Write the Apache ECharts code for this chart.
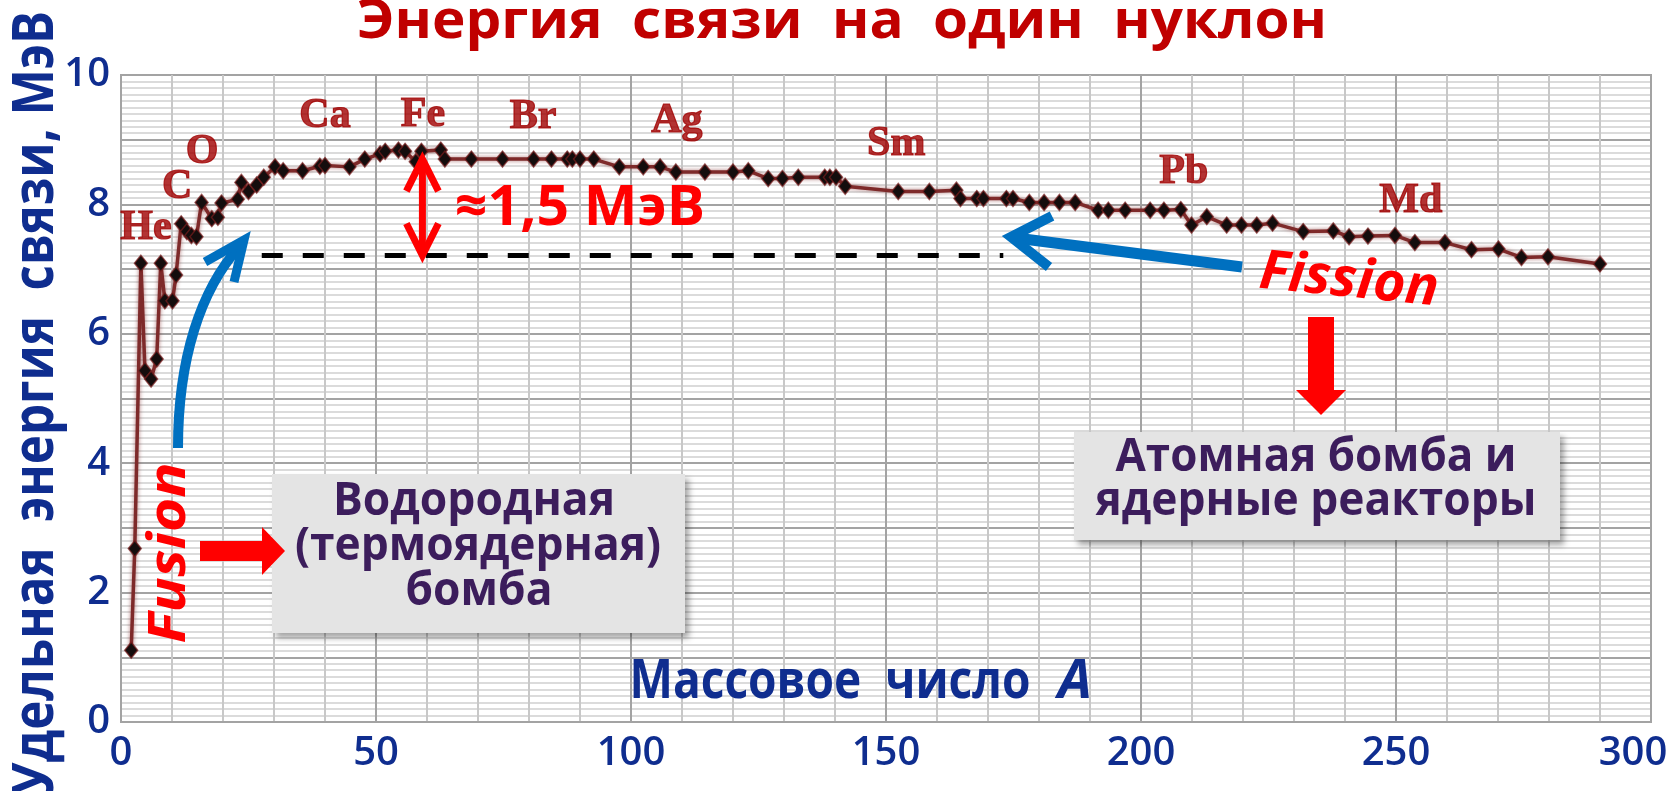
<!DOCTYPE html>
<html>
<head>
<meta charset="utf-8">
<script src="https://cdn.jsdelivr.net/npm/echarts@6/dist/echarts.min.js"></script>
<style>
  html, body { margin: 0; padding: 0; background: #fff; }
  #main { width: 1675px; height: 791px; }
</style>
</head>
<body>
<div id="main"></div>
<script>
// массовое число A
const massNumber = [2, 2.7, 3.9, 4.7, 5.9, 7.0, 7.8, 8.6, 10.1, 10.8,
  11.8, 12.9, 13.8, 14.8, 15.8, 17.8, 19.0, 19.7, 22.9, 23.6,
  25.0, 26.6, 28.0, 30.2, 31.8, 35.6, 39.0, 40.0, 44.8, 47.8,
  50.8, 51.8, 54.4, 55.7, 57.8, 58.9, 62.7, 63.5, 68.7, 74.8,
  80.9, 84.4, 87.5, 88.5, 90.0, 92.7, 97.7, 102.4, 105.7, 108.8,
  114.5, 120.0, 123.0, 126.9, 129.7, 132.8, 138.0, 139.0, 140.2, 142.0,
  152.4, 158.5, 163.8, 164.6, 167.8, 169.1, 173.6, 174.9, 178.1, 181.0,
  184.0, 187.1, 191.6, 193.6, 196.9, 201.8, 204.5, 207.8, 209.9, 212.9,
  216.8, 219.7, 222.7, 225.8, 231.8, 237.7, 240.8, 244.5, 249.8, 253.7,
  259.6, 264.8, 270.1, 274.6, 279.8, 290.0]

// удельная энергия связи, МэВ
const bindingEnergy = [1.11, 2.68, 7.09, 5.43, 5.30, 5.61, 7.09, 6.51, 6.51, 6.91,
  7.70, 7.58, 7.52, 7.50, 8.03, 7.78, 7.80, 8.02, 8.08, 8.34,
  8.20, 8.30, 8.42, 8.58, 8.52, 8.52, 8.59, 8.60, 8.58, 8.70,
  8.78, 8.82, 8.84, 8.82, 8.66, 8.82, 8.84, 8.70, 8.70, 8.70,
  8.70, 8.70, 8.70, 8.70, 8.70, 8.70, 8.58, 8.58, 8.58, 8.50,
  8.50, 8.50, 8.52, 8.40, 8.40, 8.42, 8.42, 8.42, 8.42, 8.28,
  8.20, 8.20, 8.22, 8.09, 8.09, 8.09, 8.09, 8.09, 8.03, 8.03,
  8.03, 8.03, 7.91, 7.91, 7.91, 7.91, 7.91, 7.92, 7.68, 7.81,
  7.68, 7.68, 7.68, 7.71, 7.58, 7.59, 7.50, 7.51, 7.52, 7.41,
  7.41, 7.30, 7.31, 7.18, 7.19, 7.08]

// подписи элементов (где стоят над кривой)
const elementNames = ['He', 'C', 'O', 'Ca', 'Fe', 'Br', 'Ag', 'Sm', 'Pb', 'Md']
const elementA = [4.9, 11.0, 15.9, 40.0, 59.2, 80.8, 109.0, 152.0, 208.4, 252.9]
const elementE = [7.64, 8.27, 8.81, 9.37, 9.38, 9.35, 9.29, 8.93, 8.50, 8.05]

const xTickLabels = [0, 50, 100, 150, 200, 250, 300]
const yTickLabels = [0, 2, 4, 6, 8, 10]

// пунктир и стрелка ≈1,5 МэВ
const gapLevel = 7.21
const gapFrom = 27.6
const gapTo = 173
const gapArrowA = 59.1
const gapArrowTop = 8.70

const navy = '#0f2d8f'
const chart = echarts.init(document.getElementById('main'))

const option = {
  animation: false,
  textStyle: { fontFamily: 'Open Sans' },
  grid: { left: 121, right: 24, top: 75, bottom: 69, show: true, borderColor: '#a3a3a3', borderWidth: 2 },
  xAxis: {
    type: 'value', min: 0, max: 300, interval: 10,
    axisLine: { show: true, lineStyle: { color: '#a3a3a3', width: 2 } },
    axisTick: { show: false },
    axisLabel: {
      margin: 12, fontSize: 40, fontWeight: 600, color: navy,
      formatter: v => xTickLabels.includes(v) ? (v === 300 ? '{last|300}' : String(v)) : '',
      rich: { last: { fontSize: 40, fontWeight: 600, color: navy, padding: [0, 36, 0, 0] } }
    },
    splitLine: { show: true, lineStyle: { color: ['#a3a3a3', '#c8c8c8', '#c8c8c8', '#c8c8c8', '#c8c8c8'], width: 2 } }
  },
  yAxis: {
    type: 'value', min: 0, max: 10, interval: 1,
    axisLine: { show: true, lineStyle: { color: '#a3a3a3', width: 2 } },
    axisTick: { show: false },
    axisLabel: { margin: 11, fontSize: 40, fontWeight: 600, color: navy, formatter: v => yTickLabels.includes(v) ? String(v) : '' },
    splitLine: { show: true, lineStyle: { color: '#a3a3a3', width: 2 } },
    minorTick: { show: false, splitNumber: 10 },
    minorSplitLine: { show: true, lineStyle: { color: '#cfcfcf', width: 1.5 } }
  },
  series: [
    {
      type: 'line',
      silent: true,
      data: massNumber.map((a, i) => [a, bindingEnergy[i]]),
      symbol: 'diamond',
      symbolSize: [13, 16],
      showAllSymbol: true,
      itemStyle: { color: '#140d0d', borderColor: 'rgba(120,30,30,0.7)', borderWidth: 1.5 },
      lineStyle: { color: '#7e2a2a', width: 3.5, shadowColor: 'rgba(120,30,30,0.6)', shadowBlur: 4 },
      markLine: {
        silent: true,
        symbol: ['none', 'none'],
        label: { show: false },
        lineStyle: { color: '#000', width: 5, type: [21, 20] },
        data: [[{ coord: [gapFrom, gapLevel] }, { coord: [gapTo, gapLevel] }]]
      }
    },
    {
      type: 'scatter',
      silent: true,
      symbol: 'circle',
      symbolSize: 1,
      itemStyle: { color: 'rgba(0,0,0,0)' },
      data: elementNames.map((n, i) => ({ name: n, value: [elementA[i], elementE[i]] })),
      label: {
        show: true, position: 'inside', formatter: '{b}',
        fontFamily: 'Liberation Serif', fontWeight: 'bold', fontSize: 42, color: '#a00000',
        textBorderColor: '#a00000', textBorderWidth: 1.2
      },
      z: 5
    }
  ]
}
chart.setOption(option)

// текст, подогнанный по ширине (как растянутый текст в исходной картинке)
const ctx = document.createElement('canvas').getContext('2d')
function fitText (text, cx, cy, width, capH, color, opts = {}) {
  const family = opts.family || 'Open Sans'
  const size = capH / (opts.capRatio || 0.714)
  const font = `${opts.style || 'normal'} ${opts.weight || 'bold'} ${size.toFixed(1)}px "${family}"`
  ctx.font = font
  const w = ctx.measureText(text).width
  return {
    type: 'text', x: cx, y: cy, rotation: opts.rotation || 0, scaleX: width / w, z: 100,
    style: { text, font, fill: color, textAlign: 'center', textVerticalAlign: 'middle', align: 'center', verticalAlign: 'middle' }
  }
}

function buildGraphic () {
  const top = chart.convertToPixel({ gridIndex: 0 }, [gapArrowA, gapArrowTop])
  const bot = chart.convertToPixel({ gridIndex: 0 }, [gapArrowA, gapLevel])
  const purple = '#3c1d5c'
  const box = { fill: '#e4e4e4', shadowBlur: 6, shadowOffsetX: 4, shadowOffsetY: 5, shadowColor: 'rgba(0,0,0,0.35)' }
  return [
    fitText('Энергия  связи  на  один  нуклон', 842, 22, 970, 39, '#c00000'),
    fitText('Удельная  энергия  связи, МэВ', 37, 403, 784, 41, navy, { rotation: Math.PI / 2 }),
    fitText('Массовое  число', 830, 682, 401, 39, navy),
    fitText('A', 1075, 682, 34, 39, navy, { style: 'italic' }),
    fitText('≈1,5 МэВ', 580, 209, 250, 40, '#ff0000'),
    fitText('Fusion', 170, 553, 181, 37, '#ff0000', { style: 'italic', rotation: Math.PI / 2 }),
    fitText('Fission', 1349, 281, 180, 39, '#ff0000', { style: 'italic', rotation: -0.1 }),

    { type: 'rect', z: 90, shape: { x: 272, y: 474, width: 413, height: 159 }, style: box },
    fitText('Водородная', 474, 502, 282, 33, purple),
    fitText('(термоядерная)', 478, 547, 366, 33, purple),
    fitText('бомба', 479, 592, 147, 33, purple),

    { type: 'rect', z: 90, shape: { x: 1074, y: 432, width: 486, height: 108 }, style: box },
    fitText('Атомная бомба и', 1316, 458, 401, 33, purple),
    fitText('ядерные реакторы', 1316, 502, 441, 33, purple),

    // красные блочные стрелки
    { type: 'polygon', z: 95, shape: { points: [[200, 541], [262, 541], [262, 527], [285, 551], [262, 575], [262, 561], [200, 561]] }, style: { fill: '#ff0000' } },
    { type: 'polygon', z: 95, shape: { points: [[1308, 317], [1334, 317], [1334, 390], [1346, 390], [1321, 415], [1296, 390], [1308, 390]] }, style: { fill: '#ff0000' } },

    // синяя стрелка fusion
    { type: 'bezierCurve', z: 95, shape: { x1: 178, y1: 448, cpx1: 178, cpy1: 360, cpx2: 200, cpy2: 290, x2: 240, y2: 246 }, style: { stroke: '#0070c0', lineWidth: 10, fill: 'none' } },
    { type: 'polyline', z: 95, shape: { points: [[205, 262], [244, 240], [234, 282]] }, style: { stroke: '#0070c0', lineWidth: 9, fill: 'none', lineJoin: 'miter' } },

    // синяя стрелка fission
    { type: 'line', z: 95, shape: { x1: 1242, y1: 267, x2: 1016, y2: 238 }, style: { stroke: '#0070c0', lineWidth: 11 } },
    { type: 'polyline', z: 95, shape: { points: [[1052, 216], [1011, 237], [1049, 267]] }, style: { stroke: '#0070c0', lineWidth: 10, fill: 'none', lineJoin: 'miter' } },

    // двойная стрелка ≈1,5 МэВ
    { type: 'line', z: 95, shape: { x1: top[0], y1: top[1] + 3, x2: bot[0], y2: bot[1] - 3 }, style: { stroke: '#ff0000', lineWidth: 7 } },
    { type: 'polyline', z: 95, shape: { points: [[top[0] - 16, top[1] + 32], [top[0], top[1]], [top[0] + 16, top[1] + 32]] }, style: { stroke: '#ff0000', lineWidth: 7, fill: 'none', lineJoin: 'miter' } },
    { type: 'polyline', z: 95, shape: { points: [[bot[0] - 16, bot[1] - 32], [bot[0], bot[1]], [bot[0] + 16, bot[1] - 32]] }, style: { stroke: '#ff0000', lineWidth: 7, fill: 'none', lineJoin: 'miter' } }
  ]
}

chart.setOption({ graphic: buildGraphic() })
</script>
</body>
</html>
